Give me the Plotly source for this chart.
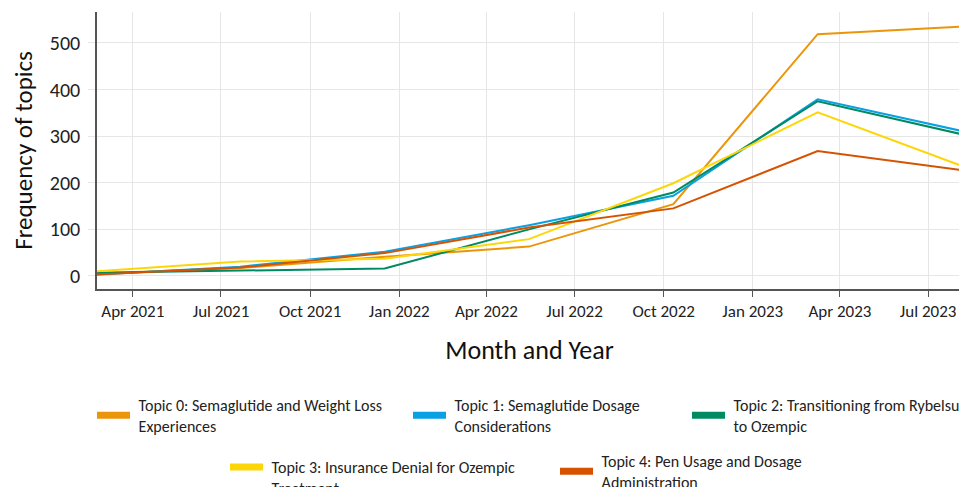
import plotly.graph_objects as go

# ---- data ----
bin_dates = ["2021-02-23", "2021-07-21", "2021-12-17", "2022-05-15",
             "2022-10-11", "2023-03-09", "2023-08-05"]
topic_names = [
    "Topic 0: Semaglutide and Weight Loss<br>Experiences",
    "Topic 1: Semaglutide Dosage<br>Considerations",
    "Topic 2: Transitioning from Rybelsus<br>to Ozempic",
    "Topic 3: Insurance Denial for Ozempic<br>Treatment",
    "Topic 4: Pen Usage and Dosage<br>Administration",
]
topic0 = [5, 17, 41, 63, 154, 519, 535]
topic1 = [3, 20, 52, 109, 172, 379, 311]
topic2 = [7, 11, 16, 100, 179, 375, 304]
topic3 = [10, 31, 37, 79, 199, 351, 236]
topic4 = [3, 18, 49, 104, 145, 268, 227]
series = [topic0, topic1, topic2, topic3, topic4]
colors = ["#EB960A", "#0AA0E4", "#008A62", "#FDD60A", "#D55300"]

tick_vals = ["2021-04-01", "2021-07-01", "2021-10-01", "2022-01-01", "2022-04-01",
             "2022-07-01", "2022-10-01", "2023-01-01", "2023-04-01", "2023-07-01"]
tick_text = ["Apr 2021", "Jul 2021", "Oct 2021", "Jan 2022", "Apr 2022",
             "Jul 2022", "Oct 2022", "Jan 2023", "Apr 2023", "Jul 2023"]

FONT = "Carlito, Lato, sans-serif"

def pad(label):
    # small indent between swatch and text
    return "<br>".join("\u00a0" + part for part in label.split("<br>"))

fig = go.Figure()
legend_ids = ["legend", "legend2", "legend3", "legend4", "legend5"]
for vals, name, col, lg in zip(series, topic_names, colors, legend_ids):
    fig.add_trace(go.Scatter(x=bin_dates, y=vals, mode="lines", name=name,
                             line=dict(color=col, width=2), showlegend=False))
    # legend-only entry with a thick swatch
    fig.add_trace(go.Scatter(x=[None], y=[None], mode="lines", name=pad(name),
                             line=dict(color=col, width=7), showlegend=True,
                             legend=lg, hoverinfo="skip"))

# page body has an 8px margin, so the figure is laid out 8px left/up
W, H = 959, 479
L, R, T, B = 89, 5, 4, 198
pw, ph = W - L - R, H - T - B

def px_to_paper(xp, yp):
    return (xp - L) / pw, (H - B - yp) / ph

legend_pos = [(84, 380), (400, 380), (679, 380), (217, 442), (547, 436)]
legend_valign = ["middle", "middle", "middle", "top", "middle"]
layout_legends = {}
for lg, (xp, yp), va in zip(legend_ids, legend_pos, legend_valign):
    xx, yy = px_to_paper(xp, yp)
    layout_legends[lg] = dict(x=xx, y=yy, xanchor="left", yanchor="top",
                              orientation="h", bgcolor="rgba(0,0,0,0)",
                              font=dict(family=FONT, size=16, color="#222"),
                              itemwidth=33, tracegroupgap=0, valign=va)

fig.update_layout(
    width=W, height=H,
    margin=dict(l=L, r=R, t=T, b=B, autoexpand=False),
    plot_bgcolor="white", paper_bgcolor="white",
    font=dict(family=FONT, color="#222"),
    **layout_legends,
)
fig.update_xaxes(
    range=[bin_dates[0], bin_dates[-1]],
    tickvals=tick_vals, ticktext=tick_text,
    tickfont=dict(size=17, color="#222"),
    showgrid=True, gridcolor="#E6E6E6", gridwidth=1,
    showline=True, linecolor="#555", linewidth=1.5,
    ticks="outside", ticklen=6, tickcolor="#555",
    automargin=False,
    title=dict(text="Month and Year", font=dict(size=26, color="#111"), standoff=20),
    zeroline=False,
)
fig.update_yaxes(
    range=[-28, 566.5],
    tickvals=[0, 100, 200, 300, 400, 500],
    tickfont=dict(size=20, color="#222"),
    showgrid=True, gridcolor="#E6E6E6", gridwidth=1,
    showline=True, linecolor="#555", linewidth=1.5,
    ticks="outside", ticklen=7, tickcolor="#E6E6E6",
    ticklabelstandoff=4,
    automargin=False,
    title=dict(text="Frequency of topics", font=dict(size=25, color="#111"), standoff=12),
    zeroline=False,
)

fig.write_html("out.html")
